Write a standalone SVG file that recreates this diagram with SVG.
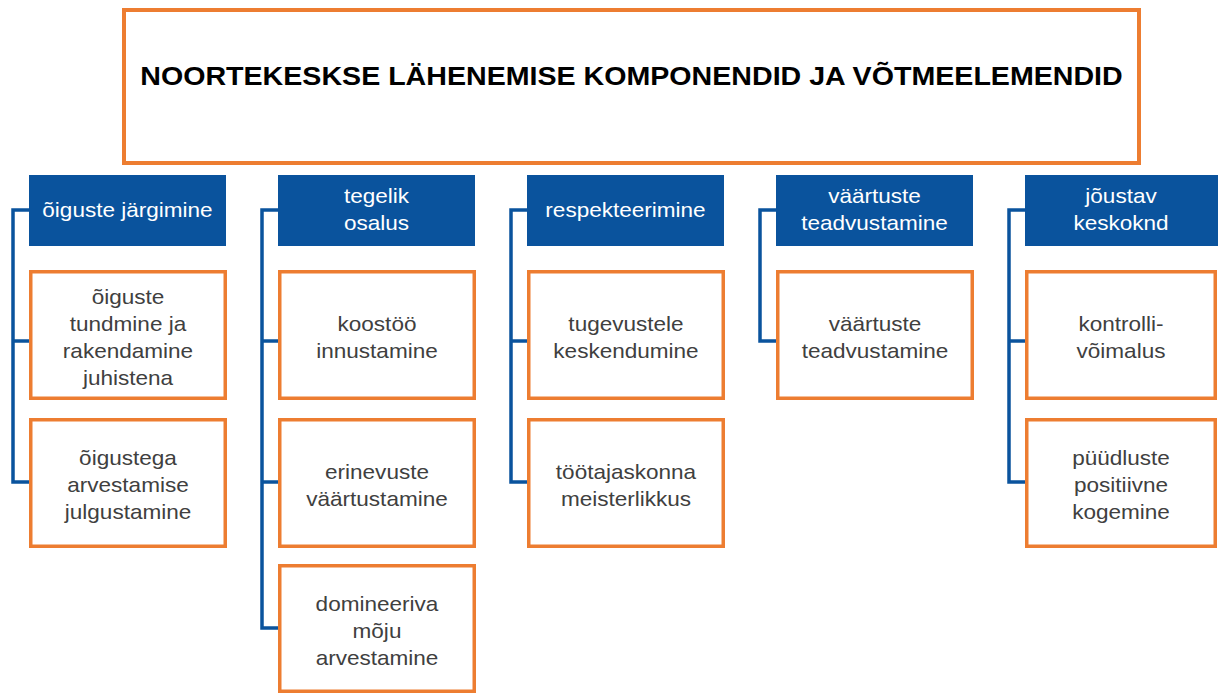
<svg xmlns="http://www.w3.org/2000/svg" width="1218" height="693" viewBox="0 0 1218 693">
<style>
.bg{fill:#ffffff}
.title-box{fill:#ffffff;stroke:#ED7D31;stroke-width:4}
.title{font-family:"Liberation Sans",Arial,sans-serif;font-weight:bold;font-size:26px;fill:#000000;text-anchor:middle}
.hdr{fill:#0A539D}
.hdr-t{font-family:"Liberation Sans",Arial,sans-serif;font-size:20.5px;fill:#ffffff;text-anchor:middle}
.box{fill:#ffffff;stroke:#ED7D31;stroke-width:3.5}
.box-t{font-family:"Liberation Sans",Arial,sans-serif;font-size:20.5px;fill:#404040;text-anchor:middle}
.sx{transform-box:fill-box;transform-origin:center;transform:scaleX(1.1)}
.conn{fill:none;stroke:#0A539D;stroke-width:3.5;stroke-linejoin:miter}
</style>
<rect class="bg" x="0" y="0" width="1218" height="693"/>

<g id="connectors">
<path class="conn" d="M29 210 H13 V482 H30"/>
<path class="conn" d="M13 341 H30"/>
<path class="conn" d="M278 210 H262 V628 H279"/>
<path class="conn" d="M262 341 H279"/>
<path class="conn" d="M262 482 H279"/>
<path class="conn" d="M527 210 H511 V482 H528"/>
<path class="conn" d="M511 341 H528"/>
<path class="conn" d="M776 210 H760 V341 H777"/>
<path class="conn" d="M1025 210 H1009 V482 H1026"/>
<path class="conn" d="M1009 341 H1026"/>
</g>

<g id="title">
<rect class="title-box" x="124" y="10" width="1015" height="153"/>
<text class="title sx" x="631.5" y="85">NOORTEKESKSE LÄHENEMISE KOMPONENDID JA VÕTMEELEMENDID</text>
</g>

<!-- column 1 -->
<g id="h1">
<rect class="hdr" x="29" y="175" width="197" height="71"/>
<text class="hdr-t sx" x="127.5" y="217.5">õiguste järgimine</text>
</g>
<g id="c1a">
<rect class="box" x="30.75" y="271.75" width="194.5" height="126.5"/>
<text class="box-t sx" x="128" y="304">õiguste</text>
<text class="box-t sx" x="128" y="331">tundmine ja</text>
<text class="box-t sx" x="128" y="358">rakendamine</text>
<text class="box-t sx" x="128" y="385">juhistena</text>
</g>
<g id="c1b">
<rect class="box" x="30.75" y="419.75" width="194.5" height="126.5"/>
<text class="box-t sx" x="128" y="465.5">õigustega</text>
<text class="box-t sx" x="128" y="492.5">arvestamise</text>
<text class="box-t sx" x="128" y="519.5">julgustamine</text>
</g>

<!-- column 2 -->
<g id="h2">
<rect class="hdr" x="278" y="175" width="197" height="71"/>
<text class="hdr-t sx" x="376.5" y="203.5">tegelik</text>
<text class="hdr-t sx" x="376.5" y="230.5">osalus</text>
</g>
<g id="c2a">
<rect class="box" x="279.75" y="271.75" width="194.5" height="126.5"/>
<text class="box-t sx" x="377" y="331">koostöö</text>
<text class="box-t sx" x="377" y="358">innustamine</text>
</g>
<g id="c2b">
<rect class="box" x="279.75" y="419.75" width="194.5" height="126.5"/>
<text class="box-t sx" x="377" y="479">erinevuste</text>
<text class="box-t sx" x="377" y="506">väärtustamine</text>
</g>
<g id="c2c">
<rect class="box" x="279.75" y="565.75" width="194.5" height="125.5"/>
<text class="box-t sx" x="377" y="611">domineeriva</text>
<text class="box-t sx" x="377" y="638">mõju</text>
<text class="box-t sx" x="377" y="665">arvestamine</text>
</g>

<!-- column 3 -->
<g id="h3">
<rect class="hdr" x="527" y="175" width="197" height="71"/>
<text class="hdr-t sx" x="625.5" y="217.5">respekteerimine</text>
</g>
<g id="c3a">
<rect class="box" x="528.75" y="271.75" width="194.5" height="126.5"/>
<text class="box-t sx" x="626" y="331">tugevustele</text>
<text class="box-t sx" x="626" y="358">keskendumine</text>
</g>
<g id="c3b">
<rect class="box" x="528.75" y="419.75" width="194.5" height="126.5"/>
<text class="box-t sx" x="626" y="479">töötajaskonna</text>
<text class="box-t sx" x="626" y="506">meisterlikkus</text>
</g>

<!-- column 4 -->
<g id="h4">
<rect class="hdr" x="776" y="175" width="197" height="71"/>
<text class="hdr-t sx" x="874.5" y="203.5">väärtuste</text>
<text class="hdr-t sx" x="874.5" y="230.5">teadvustamine</text>
</g>
<g id="c4a">
<rect class="box" x="777.75" y="271.75" width="194.5" height="126.5"/>
<text class="box-t sx" x="875" y="331">väärtuste</text>
<text class="box-t sx" x="875" y="358">teadvustamine</text>
</g>

<!-- column 5 -->
<g id="h5">
<rect class="hdr" x="1025" y="175" width="197" height="71"/>
<text class="hdr-t sx" x="1121" y="203.5">jõustav</text>
<text class="hdr-t sx" x="1121" y="230.5">keskoknd</text>
</g>
<g id="c5a">
<rect class="box" x="1026.75" y="271.75" width="188.5" height="126.5"/>
<text class="box-t sx" x="1121" y="331">kontrolli-</text>
<text class="box-t sx" x="1121" y="358">võimalus</text>
</g>
<g id="c5b">
<rect class="box" x="1026.75" y="419.75" width="188.5" height="126.5"/>
<text class="box-t sx" x="1121" y="465.5">püüdluste</text>
<text class="box-t sx" x="1121" y="492.5">positiivne</text>
<text class="box-t sx" x="1121" y="519.5">kogemine</text>
</g>
</svg>
